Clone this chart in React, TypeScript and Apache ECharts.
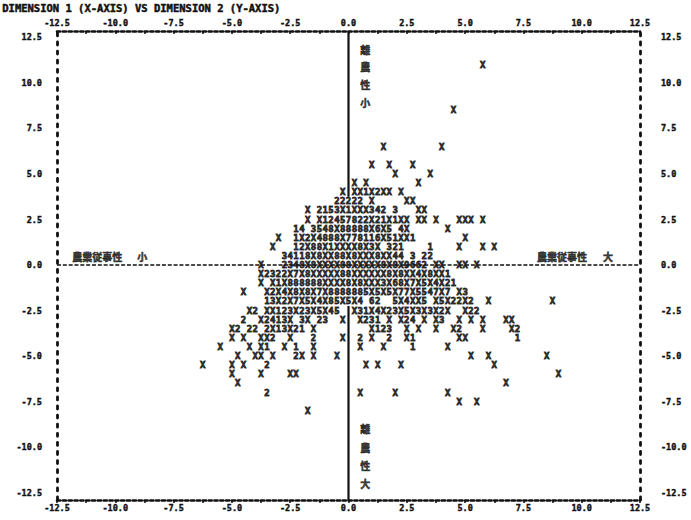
import React, { useEffect, useRef } from "react";
import * as echarts from "echarts";

const titleText = "DIMENSION 1 (X-AXIS) VS DIMENSION 2 (Y-AXIS)";
const xTicks = [-12.5, -10, -7.5, -5, -2.5, 0, 2.5, 5, 7.5, 10, 12.5];
const yTicks = [-12.5, -10, -7.5, -5, -2.5, 0, 2.5, 5, 7.5, 10, 12.5];
const xMinorTicks = [
  -12.5, -11.25, -10, -8.75, -7.5, -6.25, -5, -3.75, -2.5, -1.25, 0,
  1.25, 2.5, 3.75, 5, 6.25, 7.5, 8.75, 10, 11.25, 12.5,
];

// Printer-plot rows: [dimension-2 value, dimension-1 value of first character, characters]
// characters sit 0.25 apart on dimension 1; a space is an empty cell.
const CHAR_STEP = 0.25;
const plotRows: [number, number, string][] = [
  [11.0, 5.75, "X"],
  [8.5, 4.5, "X"],
  [6.5, 1.5, "X"],
  [6.5, 4.0, "X"],
  [5.5, 1.0, "X"],
  [5.5, 1.75, "X"],
  [5.5, 2.75, "X"],
  [5.0, 2.0, "X"],
  [5.0, 3.5, "X"],
  [4.5, 0.25, "X X"],
  [4.5, 3.0, "X"],
  [4.0, -0.25, "X XX1X2XX X"],
  [3.5, -0.5, "22222 X"],
  [3.5, 2.5, "XX"],
  [3.0, -1.75, "X 2153X1XXX342 3"],
  [3.0, 3.0, "XX"],
  [2.5, -1.75, "X X12457822X21X1XX"],
  [2.5, 3.0, "XX X   XXX X"],
  [2.0, -2.25, "14 3548X88888X6X5 4X"],
  [2.0, 4.25, "X"],
  [1.5, -3.0, "X  1X2X4888X778116X51XX1"],
  [1.5, 5.0, "X"],
  [1.0, -3.25, "X   12X88X1XXXX8X3X 321"],
  [1.0, 3.5, "1"],
  [1.0, 4.75, "X"],
  [1.0, 5.75, "X"],
  [1.0, 6.25, "X"],
  [0.5, -2.75, "34118X8XX88X8XXX8XX44 3 22"],
  [0.0, -3.75, "X   2348X8XXXX88XXXXX8X8X9662 XX  XX X"],
  [-0.5, -3.75, "X2322X7X8XXXXX88XXXXXX8X8XX4X8XX1"],
  [-1.0, -3.75, "X X1X888888XXXX8X8XXX3X68X7X5X4X21"],
  [-1.5, -4.5, "X   X2X4X8X8X7X8888885X5X5X77X5547X7 X3"],
  [-2.0, -3.5, "13X2X7X5X4X85X5X4 62  5X4XX5 X5X22X2  X"],
  [-2.0, 8.75, "X"],
  [-2.5, -4.25, "X2 XX123X23X5X45"],
  [-2.5, 0.25, "X31X4X23X5X3X3X2X  X22"],
  [-3.0, -4.5, "2"],
  [-3.0, -3.75, "X2413X"],
  [-3.0, -2.0, "3X"],
  [-3.0, -1.25, "23"],
  [-3.0, -0.25, "X"],
  [-3.0, 0.5, "X231 X X24 X X3  X X X   XX"],
  [-3.5, -5.0, "X2 22 2X13X21 X"],
  [-3.5, 1.0, "X123  X X  X  X2   X    X2"],
  [-4.0, -5.0, "X X  XX2  X   2    X"],
  [-4.0, 0.5, "2 X  2  X1       XX        1"],
  [-4.5, -5.5, "X    X X1  X 1  X"],
  [-4.5, 0.5, "X   X    1     X"],
  [-5.0, -4.75, "X  XX X   2X X   X"],
  [-5.0, 5.25, "X  X"],
  [-5.0, 8.5, "X"],
  [-5.5, -6.25, "X"],
  [-5.5, -5.0, "X X   2"],
  [-5.5, 0.75, "X X   X"],
  [-5.5, 6.25, "X"],
  [-6.0, -5.0, "X    X    XX"],
  [-6.0, 9.0, "X"],
  [-6.5, -4.75, "X"],
  [-6.5, 6.75, "X"],
  [-7.0, -3.5, "2"],
  [-7.0, 0.5, "X     X"],
  [-7.0, 4.25, "X"],
  [-7.5, 4.75, "X  X"],
  [-8.0, -1.75, "X"],
];

// Reference lines of the plot
const zeroLineH: [number, number][] = [[-12.5, 0], [12.5, 0]];
const zeroLineVTop: [number, number][] = [[0, 12.85], [0, 3.75]];
const zeroLineVBottom: [number, number][] = [[0, -2.25], [0, -12.9]];

// Annotations: [dim 1, dim 2, text]
const annotations: [number, number, string][] = [
  [-10.77, 0.45, "農業従事性"],
  [-8.84, 0.45, "小"],
  [9.16, 0.45, "農業従事性"],
  [11.13, 0.45, "大"],
  [0.72, 11.85, "離"],
  [0.72, 10.9, "農"],
  [0.72, 9.9, "性"],
  [0.72, 8.95, "小"],
  [0.72, -9.0, "離"],
  [0.72, -10.0, "農"],
  [0.72, -11.0, "性"],
  [0.72, -12.0, "大"],
];

const INK = "#111";
const MONO = '"DejaVu Sans Mono", "Liberation Mono", monospace';
const CJK = '"Noto Sans CJK JP", "Noto Sans CJK SC", sans-serif';

function buildOption() {
  const points: { value: number[]; name: string }[] = [];
  plotRows.forEach(([y, x0, s]) => {
    [...s].forEach((ch, i) => {
      if (ch !== " ") points.push({ value: [x0 + i * CHAR_STEP, y], name: ch });
    });
  });

  const axisLabelBase = {
    fontFamily: MONO,
    fontWeight: "bold" as const,
    fontSize: 8.5,
    color: INK,
    textBorderColor: INK,
    textBorderWidth: 0.4,
    formatter: (v: number) => Number(v).toFixed(1),
  };

  const xAxisCommon = (position: "top" | "bottom") => ({
    type: "value" as const,
    position,
    min: -12.5,
    max: 12.5,
    interval: 2.5,
    axisLine: {
      show: true,
      onZero: false,
      lineStyle: { color: INK, width: 2.6, type: [3.2, 2.63] },
    },
    axisTick: {
      show: true,
      inside: position === "top",
      customValues: xMinorTicks,
      length: 3,
      lineStyle: { color: INK, width: 1.5 },
    },
    axisLabel: {
      ...axisLabelBase,
      customValues: xTicks,
      margin: position === "top" ? 4 : 3,
    },
    splitLine: { show: false },
  });

  const yAxisCommon = (position: "left" | "right") => ({
    type: "value" as const,
    position,
    min: -12.9,
    max: 12.85,
    axisLine: {
      show: true,
      onZero: false,
      lineStyle: { color: INK, width: 2.8, type: [3, 6.1] },
    },
    axisTick: { show: false },
    axisLabel: {
      ...axisLabelBase,
      customValues: yTicks,
      margin: position === "left" ? 15 : 21,
    },
    splitLine: { show: false },
  });

  return {
    animation: false,
    backgroundColor: "#ffffff",
    grid: { left: 57, right: 51, top: 31, bottom: 20 },
    graphic: [
      {
        type: "text",
        left: 2,
        top: 2,
        style: {
          text: titleText,
          fontFamily: MONO,
          fontWeight: "bold",
          fontSize: 10.5,
          fill: INK,
          stroke: INK,
          lineWidth: 0.5,
        },
      },
    ],
    xAxis: [xAxisCommon("bottom"), xAxisCommon("top")],
    yAxis: [yAxisCommon("left"), yAxisCommon("right")],
    series: [
      {
        type: "line",
        data: zeroLineH,
        symbol: "none",
        silent: true,
        z: 1,
        lineStyle: { color: INK, width: 1.5, type: [4, 1.83] },
      },
      {
        type: "line",
        data: zeroLineVTop,
        symbol: "none",
        silent: true,
        z: 1,
        lineStyle: { color: INK, width: 2.2 },
      },
      {
        type: "line",
        data: zeroLineVBottom,
        symbol: "none",
        silent: true,
        z: 1,
        lineStyle: { color: INK, width: 2.2 },
      },
      {
        type: "scatter",
        data: points,
        symbolSize: 0,
        silent: true,
        z: 3,
        itemStyle: { color: "transparent" },
        label: {
          show: true,
          position: "inside",
          formatter: (p: any) => p.name,
          fontFamily: MONO,
          fontWeight: "bold",
          fontSize: 9,
          color: INK,
          textBorderColor: INK,
          textBorderWidth: 0.9,
        },
      },
      {
        type: "scatter",
        data: annotations.map(([x, y, t]) => ({ value: [x, y], name: t })),
        symbolSize: 0,
        silent: true,
        z: 4,
        itemStyle: { color: "transparent" },
        label: {
          show: true,
          position: "inside",
          formatter: (p: any) => p.name,
          fontFamily: CJK,
          fontWeight: "bold",
          fontSize: 10,
          color: INK,
          textBorderColor: INK,
          textBorderWidth: 0.6,
        },
      },
    ],
  };
}

export default function App() {
  const ref = useRef<HTMLDivElement>(null);
  useEffect(() => {
    if (!ref.current) return;
    const chart = echarts.init(ref.current, undefined, { renderer: "svg" });
    chart.setOption(buildOption() as any);
    return () => chart.dispose();
  }, []);
  return (
    <div
      ref={ref}
      style={{
        position: "fixed",
        left: 0,
        top: 0,
        width: 691,
        height: 520,
        background: "#fff",
      }}
    />
  );
}
